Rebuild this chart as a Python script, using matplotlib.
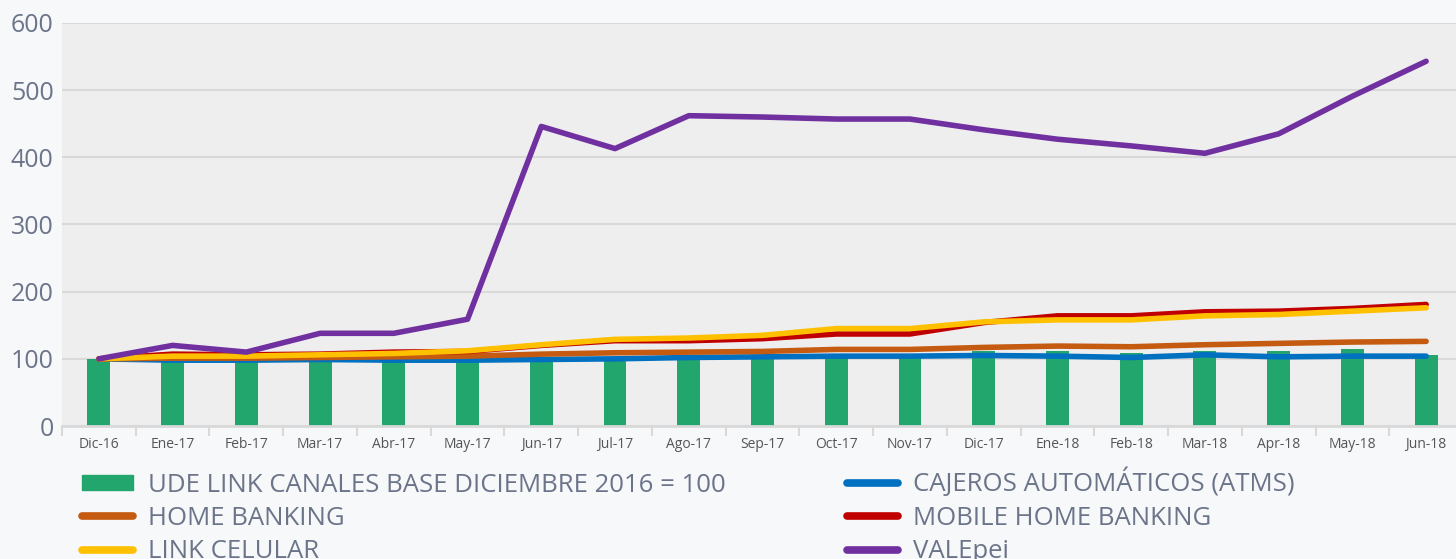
import matplotlib.pyplot as plt
from matplotlib.patches import Patch
from matplotlib.lines import Line2D
import numpy as np

months = ['Dic-16', 'Ene-17', 'Feb-17', 'Mar-17', 'Abr-17', 'May-17', 'Jun-17',
          'Jul-17', 'Ago-17', 'Sep-17', 'Oct-17', 'Nov-17', 'Dic-17', 'Ene-18',
          'Feb-18', 'Mar-18', 'Apr-18', 'May-18', 'Jun-18']

ude_link = [100, 97, 97, 98, 97, 98, 99, 100, 102, 103, 104, 104, 111, 111,
            109, 112, 111, 114, 106]
cajeros = [100, 98, 98, 99, 98, 98, 99, 100, 102, 103, 104, 104, 105, 104,
           102, 106, 103, 104, 104]
home_banking = [100, 101, 101, 102, 103, 104, 107, 109, 110, 111, 114, 114,
                117, 119, 118, 121, 123, 125, 126]
mobile = [100, 107, 106, 107, 110, 111, 120, 127, 127, 130, 137, 137, 154,
          164, 164, 170, 171, 175, 181]
link_celular = [100, 104, 104, 106, 108, 112, 121, 129, 131, 135, 145, 145,
                155, 158, 158, 164, 166, 171, 176]
valepei = [100, 120, 110, 138, 138, 159, 446, 413, 462, 460, 457, 457, 441,
           427, 417, 406, 435, 491, 543]

bg = '#f7f8fa'
text_col = '#6b7489'

fig = plt.figure(figsize=(14.56, 5.59), dpi=100, facecolor=bg)
ax = fig.add_axes([62 / 1456, 133 / 559, 1401 / 1456, 403 / 559])
ax.set_facecolor('#eeeeee')

x = np.arange(len(months))
ax.bar(x, ude_link, width=0.31, color='#23a56e', zorder=2)
lw = 4
ax.plot(x, cajeros, color='#0070c0', lw=lw, solid_capstyle='round', zorder=3)
ax.plot(x, home_banking, color='#c55a11', lw=lw, solid_capstyle='round', zorder=4)
ax.plot(x, mobile, color='#c00000', lw=lw, solid_capstyle='round', zorder=5)
ax.plot(x, link_celular, color='#ffc000', lw=lw, solid_capstyle='round', zorder=6)
ax.plot(x, valepei, color='#7030a0', lw=lw, solid_capstyle='round', zorder=7)

ax.set_xlim(-0.5, len(months) - 0.5)
ax.set_ylim(0, 600)
ax.set_yticks(range(0, 601, 100))
ax.grid(axis='y', color='#d9d9d9', lw=1.5, zorder=1)
ax.set_xticks(x)
ax.set_xticklabels(months, fontsize=10, color='#555555', family='Open Sans')
ax.set_xticks(np.arange(-0.5, len(months), 1), minor=True)
ax.tick_params(axis='x', which='major', length=0, pad=8)
ax.tick_params(axis='x', which='minor', length=7, width=1.5, color='#d9d9d9')
ax.tick_params(axis='y', length=0, labelsize=18, labelcolor=text_col, pad=6)
for lab in ax.get_yticklabels():
    lab.set_family('Open Sans')
for s in ['top', 'right', 'left']:
    ax.spines[s].set_visible(False)
ax.spines['bottom'].set_color('#d9d9d9')
ax.spines['bottom'].set_linewidth(2)

handles = [
    Patch(color='#23a56e'),
    Line2D([], [], color='#c55a11', lw=5.5, solid_capstyle='round'),
    Line2D([], [], color='#ffc000', lw=5.5, solid_capstyle='round'),
    Line2D([], [], color='#0070c0', lw=5.5, solid_capstyle='round'),
    Line2D([], [], color='#c00000', lw=5.5, solid_capstyle='round'),
    Line2D([], [], color='#7030a0', lw=5.5, solid_capstyle='round'),
]
labels = ['UDE LINK CANALES BASE DICIEMBRE 2016 = 100', 'HOME BANKING',
          'LINK CELULAR', 'CAJEROS AUTOMÁTICOS (ATMS)', 'MOBILE HOME BANKING',
          'VALEpei']
leg = fig.legend(handles, labels, ncol=2, loc='upper left',
                 bbox_to_anchor=(82 / 1456, 1 - 468 / 559), frameon=False,
                 borderpad=0, borderaxespad=0,
                 prop={'family': 'Open Sans', 'size': 18.5}, labelcolor=text_col,
                 handlelength=2.0, handleheight=0.55, handletextpad=0.58,
                 columnspacing=4.7, labelspacing=0.32)

fig.savefig('out.png', dpi=100, facecolor=bg)
